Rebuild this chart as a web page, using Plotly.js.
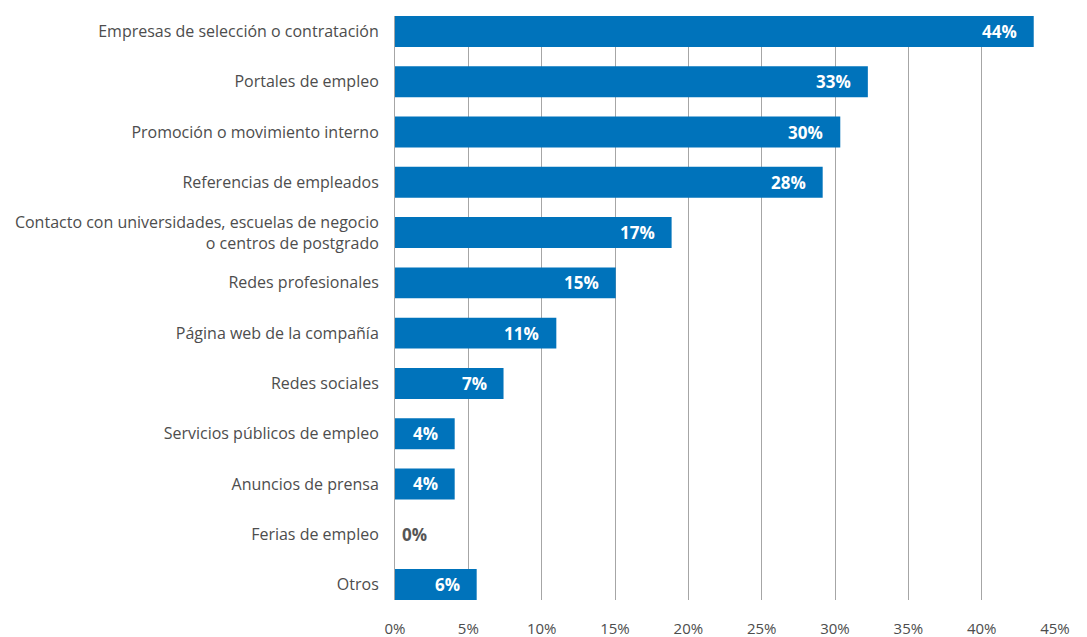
<!DOCTYPE html>
<html>
<head>
<meta charset="utf-8">
<script src="https://cdn.plot.ly/plotly-3.0.1.min.js"></script>
<style>html,body{margin:0;padding:0;background:#fff;}#chart{width:1087px;height:637px;}</style>
</head>
<body>
<div id="chart"></div>
<script>
const categories = [
  "Empresas de selección o contratación",
  "Portales de empleo",
  "Promoción o movimiento interno",
  "Referencias de empleados",
  "Contacto con universidades, escuelas de negocio<br>o centros de postgrado",
  "Redes profesionales",
  "Página web de la compañía",
  "Redes sociales",
  "Servicios públicos de empleo",
  "Anuncios de prensa",
  "Ferias de empleo",
  "Otros"
];
const barValues = [43.55, 32.24, 30.36, 29.16, 18.86, 15.05, 11.0, 7.4, 4.07, 4.07, 0, 5.57];
const valueLabels = ["44%", "33%", "30%", "28%", "17%", "15%", "11%", "7%", "4%", "4%", "0%", "6%"];
const xTickVals = [0, 5, 10, 15, 20, 25, 30, 35, 40, 45];
const xTickText = ["0%", "5%", "10%", "15%", "20%", "25%", "30%", "35%", "40%", "45%"];

const FONT = "'Open Sans', 'Noto Sans', sans-serif";
const BAR = "#0073BB";

const annotations = categories.map((c, i) => {
  const v = barValues[i];
  const inside = v > 1;
  return {
    x: v, y: i, xref: "x", yref: "y",
    text: "<b>" + valueLabels[i] + "</b>",
    showarrow: false,
    xanchor: inside ? "right" : "left",
    xshift: inside ? -15 : 5,
    font: {family: FONT, size: 17, color: inside ? "#ffffff" : "#555555"}
  };
});

const trace = {
  type: "bar",
  orientation: "h",
  x: barValues,
  y: categories.map((c, i) => i),
  marker: {color: BAR},
  width: 0.616,
  hoverinfo: "skip"
};

const layout = {
  width: 1087, height: 637,
  margin: {l: 395, r: 32, t: 16, b: 37},
  paper_bgcolor: "#fff", plot_bgcolor: "#fff",
  showlegend: false,
  xaxis: {
    range: [0, 45],
    tickvals: xTickVals, ticktext: xTickText,
    showgrid: true, gridcolor: "#a6a6a6", gridwidth: 1,
    zeroline: false, showline: false,
    ticks: "outside", ticklen: 15, tickcolor: "rgba(0,0,0,0)",
    tickfont: {family: FONT, size: 15, color: "#4d4d4d"},
    fixedrange: true
  },
  yaxis: {
    type: "linear",
    range: [11.308, -0.308],
    tickvals: categories.map((c, i) => i),
    ticktext: categories,
    showgrid: false, zeroline: false,
    showline: true, linecolor: "#a6a6a6", linewidth: 1,
    ticks: "outside", ticklen: 12, tickcolor: "rgba(0,0,0,0)",
    tickfont: {family: FONT, size: 16, color: "#4d4d4d"},
    fixedrange: true
  },
  annotations: annotations
};

Plotly.newPlot("chart", [trace], layout, {displayModeBar: false, staticPlot: true});
</script>
</body>
</html>
